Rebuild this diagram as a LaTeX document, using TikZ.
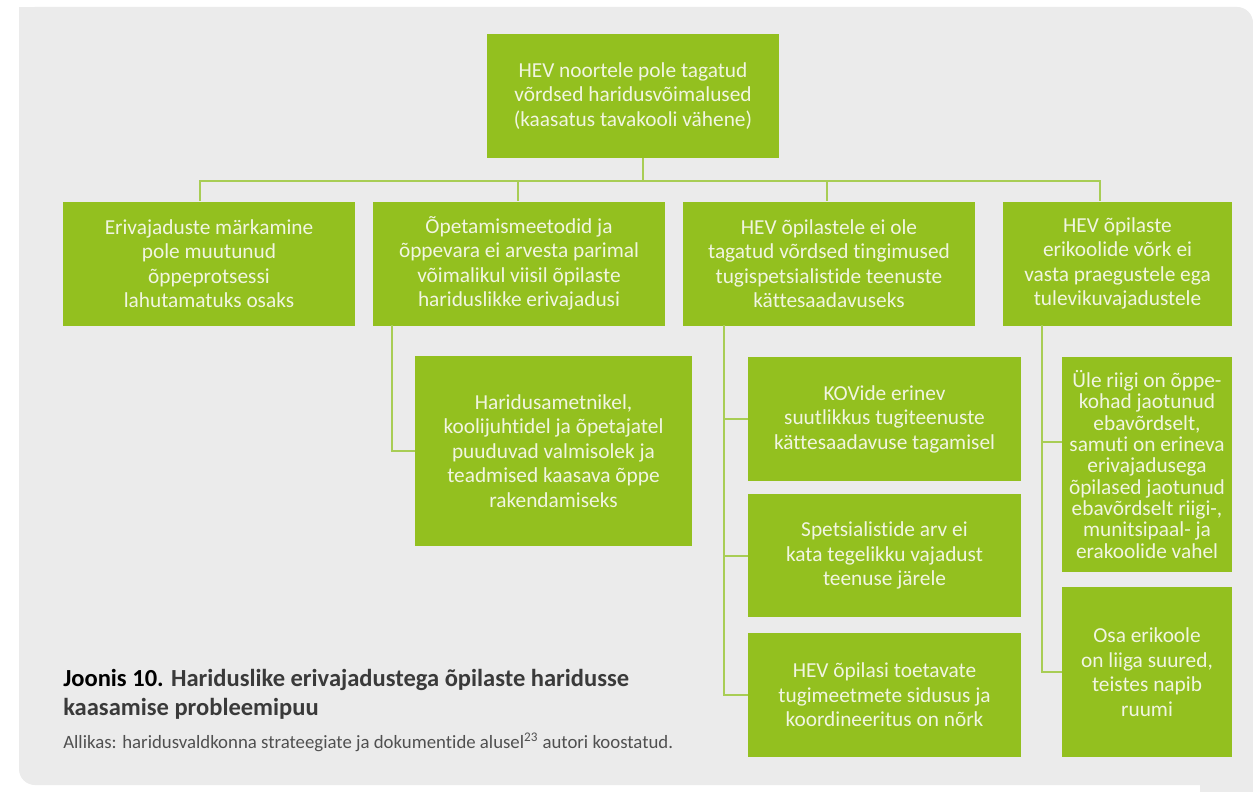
\documentclass[tikz,border=0pt]{standalone}
\usepackage{fontspec}
\setmainfont[Ligatures=NoCommon]{Carlito}
\newfontfamily\boxfont[Ligatures=NoCommon]{Carlito}
\newfontfamily\capfont[Ligatures=NoCommon]{Carlito}
\definecolor{bgc}{HTML}{EBEBEB}
\definecolor{boxg}{HTML}{93C01F}
\definecolor{lineg}{HTML}{A8CD55}
\definecolor{boxtxt}{HTML}{F1F5E1}
\definecolor{captxt}{HTML}{3A3A3A}
\definecolor{srctxt}{HTML}{505050}
\tikzset{
  box/.style 2 args={fill=boxg, draw=none, inner sep=0pt, align=center,
    minimum width=#1*0.75pt, minimum height=#2*0.75pt,
    text=boxtxt, font=\boxfont\fontsize{16pt}{18.4pt}\selectfont},
  tightbox/.style={font=\boxfont\fontsize{16pt}{16pt}\selectfont},
  conn/.style={draw=lineg, line width=1.5pt},
  captext/.style={anchor=base west, inner sep=0pt, text=captxt,
    font=\capfont\bfseries\fontsize{18.4pt}{22pt}\selectfont},
}
\begin{document}
\begin{tikzpicture}[x=0.75pt,y=-0.75pt]
\useasboundingbox (0,0) rectangle (1253,792);
\fill[white] (0,0) rectangle (1253,792);
\fill[bgc, rounded corners=12pt] (19,7) rectangle (1253,785);
\fill[bgc] (19,7) rectangle (60,60);
\fill[bgc] (1200,740) rectangle (1253,792);

% boxes
\node[box={292}{123}] (top) at (633,96) {HEV noortele pole tagatud\\võrdsed haridusvõimalused\\(kaasatus tavakooli vähene)};
\node[box={292}{124}] (b1) at (209,263.5) {Erivajaduste märkamine\\pole muutunud\\õppeprotsessi\\lahutamatuks osaks};
\node[box={292}{124}] (b2) at (519,263.5) {Õpetamismeetodid ja\\õppevara ei arvesta parimal\\võimalikul viisil õpilaste\\hariduslikke erivajadusi};
\node[box={292}{124}] (b3) at (829,263.5) {HEV õpilastele ei ole\\tagatud võrdsed tingimused\\tugispetsialistide teenuste\\kättesaadavuseks};
\node[box={229}{124}] (b4) at (1117.5,263.5) {HEV õpilaste\\erikoolide võrk ei\\vasta praegustele ega\\tulevikuvajadustele};
\node[box={277}{190}] (b5) at (553.5,451) {Haridusametnikel,\\koolijuhtidel ja õpetajatel\\puuduvad valmisolek ja\\teadmised kaasava õppe\\rakendamiseks};
\node[box={273}{124}] (c1) at (884.5,419) {KOVide erinev\\suutlikkus tugiteenuste\\kättesaadavuse tagamisel};
\node[box={273}{123}] (c2) at (884.5,555.5) {Spetsialistide arv ei\\kata tegelikku vajadust\\teenuse järele};
\node[box={273}{124}] (c3) at (884.5,695) {HEV õpilasi toetavate\\tugimeetmete sidusus ja\\koordineeritus on nõrk};
\node[box={170}{215}, tightbox] (d1) at (1147,464.5) {Üle riigi on õppe-\\kohad jaotunud\\ebavõrdselt,\\samuti on erineva\\erivajadusega\\õpilased jaotunud\\ebavõrdselt riigi-,\\munitsipaal- ja\\erakoolide vahel};
\node[box={170}{170}] (d2) at (1147,672) {Osa erikoole\\on liiga suured,\\teistes napib\\ruumi};

% connectors
\coordinate (t0) at (643,157.5);
\coordinate (j1) at (200,181);
\coordinate (j2) at (518,181);
\coordinate (j3) at (827,181);
\coordinate (j4) at (1100,181);
\coordinate (jt) at (643,181);
\draw[conn] (t0) -- (jt);
\draw[conn] (j1 |- b1.north) -- (j1) -- (j4) -- (j4 |- b4.north);
\draw[conn] (j2) -- (j2 |- b2.north);
\draw[conn] (j3) -- (j3 |- b3.north);

\coordinate (k2) at (392,325);
\draw[conn] (k2) |- (b5.west);

\coordinate (k3) at (724,325);
\draw[conn] (k3) |- (c3.west);
\draw[conn] (k3 |- c1.west) -- (c1.west);
\draw[conn] (k3 |- c2.west) -- (c2.west);

\coordinate (k4) at (1042,325);
\coordinate (s41) at (1062,442);
\draw[conn] (k4) |- (d2.west);
\draw[conn] (k4 |- s41) -- (s41);

% caption
\node[captext] (cap1) at (63,686) {\textcolor{black}{Joonis 10.} Hariduslike erivajadustega õpilaste haridusse};
\node[captext] (cap2) at (63,715) {kaasamise probleemipuu};
\node[anchor=base west, inner sep=0pt, font=\capfont\fontsize{14.1pt}{16pt}\selectfont, text=srctxt] (src) at (63,748) {Allikas: haridusvaldkonna strateegiate ja dokumentide alusel\textsuperscript{23} autori koostatud.};
\end{tikzpicture}
\end{document}
